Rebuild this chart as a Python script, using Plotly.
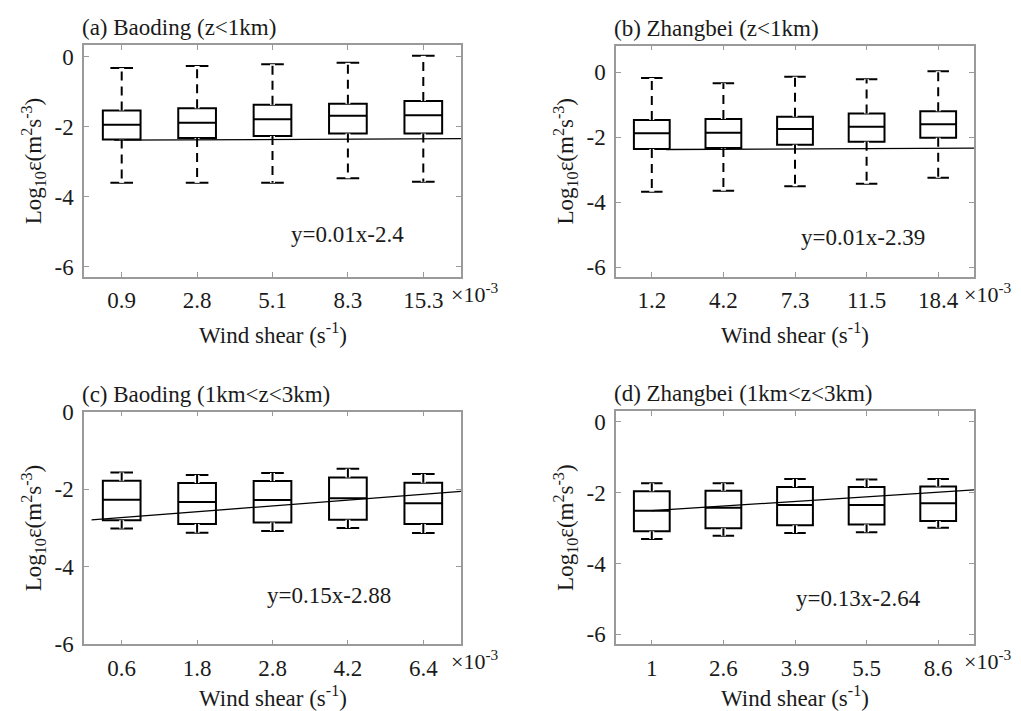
import plotly.graph_objects as go

# ---------------- data ----------------
shear_a = ["0.9", "2.8", "5.1", "8.3", "15.3"]
shear_b = ["1.2", "4.2", "7.3", "11.5", "18.4"]
shear_c = ["0.6", "1.8", "2.8", "4.2", "6.4"]
shear_d = ["1", "2.6", "3.9", "5.5", "8.6"]

# panel (a) Baoding z<1km
a_upper = [-0.33, -0.27, -0.22, -0.18, 0.02]
a_q3 = [-1.54, -1.48, -1.38, -1.35, -1.27]
a_med = [-1.95, -1.89, -1.79, -1.69, -1.68]
a_q1 = [-2.37, -2.33, -2.27, -2.20, -2.20]
a_lower = [-3.61, -3.61, -3.61, -3.48, -3.58]

# panel (b) Zhangbei z<1km
b_upper = [-0.18, -0.34, -0.14, -0.22, 0.03]
b_q3 = [-1.47, -1.44, -1.37, -1.27, -1.20]
b_med = [-1.88, -1.86, -1.75, -1.68, -1.60]
b_q1 = [-2.36, -2.33, -2.23, -2.14, -2.02]
b_lower = [-3.68, -3.65, -3.51, -3.43, -3.25]

# panel (c) Baoding 1km<z<3km
c_upper = [-1.57, -1.63, -1.58, -1.47, -1.61]
c_q3 = [-1.78, -1.84, -1.79, -1.70, -1.83]
c_med = [-2.27, -2.33, -2.28, -2.23, -2.36]
c_q1 = [-2.80, -2.90, -2.86, -2.79, -2.90]
c_lower = [-3.01, -3.12, -3.08, -3.00, -3.13]

# panel (d) Zhangbei 1km<z<3km
d_upper = [-1.74, -1.74, -1.62, -1.63, -1.62]
d_q3 = [-1.96, -1.95, -1.84, -1.84, -1.83]
d_med = [-2.51, -2.43, -2.35, -2.35, -2.30]
d_q1 = [-3.09, -3.01, -2.92, -2.90, -2.80]
d_lower = [-3.31, -3.22, -3.14, -3.12, -2.99]

# linear fits (slope, intercept)
fit_a = (0.01, -2.4)
fit_b = (0.01, -2.39)
fit_c = (0.15, -2.88)
fit_d = (0.13, -2.64)

titles = ["(a) Baoding (z&lt;1km)", "(b) Zhangbei (z&lt;1km)",
          "(c) Baoding (1km&lt;z&lt;3km)", "(d) Zhangbei (1km&lt;z&lt;3km)"]
fit_texts = ["y=0.01x-2.4", "y=0.01x-2.39", "y=0.15x-2.88", "y=0.13x-2.64"]
fit_text_pos = [(3.99, -5.08), (3.95, -5.1), (3.75, -4.75), (3.88, -5.0)]
y_ranges = [[-6.3, 0.33], [-6.3, 0.82], [-6.0, 0.0], [-6.28, 0.3]]
x_title = "Wind shear (s<sup>-1</sup>)"
y_title = "Log<sub>10</sub>ε(m<sup>2</sup>s<sup>-3</sup>)"

panels = [
    (shear_a, a_upper, a_q3, a_med, a_q1, a_lower, fit_a),
    (shear_b, b_upper, b_q3, b_med, b_q1, b_lower, fit_b),
    (shear_c, c_upper, c_q3, c_med, c_q1, c_lower, fit_c),
    (shear_d, d_upper, d_q3, d_med, d_q1, d_lower, fit_d),
]

# the page has an 8px body margin; the figure starts there and runs to the window edge
OFF = 8
W, H = 1021 - OFF, 711 - OFF
FONT = "Liberation Serif"
FS = 23
TXT = "#1a1a1a"


def fx(px):
    return (px - OFF) / W


def fy(py):
    return 1 - (py - OFF) / H


domains = [
    ([fx(84), fx(461)], [fy(277), fy(45)]),
    ([fx(616), fx(974)], [fy(277), fy(45.5)]),
    ([fx(84), fx(461)], [fy(644.3), fy(411.7)]),
    ([fx(616), fx(974)], [fy(644.3), fy(411)]),
]
xtitle_shift = [-56, -56, -52, -52]

fig = go.Figure()
layout = dict(
    template="none",
    width=W, height=H, margin=dict(l=0, r=0, t=0, b=0, autoexpand=False),
    paper_bgcolor="white", plot_bgcolor="white", showlegend=False,
    font=dict(family=FONT, size=FS, color=TXT),
)
annotations = []
AXIS_GRAY = "#9a9a9a"

for k, (labels, up, q3, med, q1, lo, fit) in enumerate(panels):
    n = k + 1
    xa = "x" if n == 1 else f"x{n}"
    ya = "y" if n == 1 else f"y{n}"
    pos = list(range(1, len(labels) + 1))

    fig.add_trace(go.Box(
        x=pos, q1=q1, median=med, q3=q3, lowerfence=lo, upperfence=up,
        width=0.5, whiskerwidth=0.6, boxpoints=False,
        line=dict(color="black", width=2), fillcolor="white",
        xaxis=xa, yaxis=ya, hoverinfo="skip",
    ))

    # dashed whiskers: cover solid whisker with white, then dashed black
    wx, wy = [], []
    for i, p in enumerate(pos):
        wx += [p, p, None, p, p, None]
        wy += [q3[i], up[i], None, q1[i], lo[i], None]
    fig.add_trace(go.Scatter(x=wx, y=wy, mode="lines",
                             line=dict(color="white", width=5),
                             xaxis=xa, yaxis=ya, hoverinfo="skip"))
    fig.add_trace(go.Scatter(x=wx, y=wy, mode="lines",
                             line=dict(color="black", width=2, dash="9px,6px"),
                             xaxis=xa, yaxis=ya, hoverinfo="skip"))

    # fit line, drawn over the index axis from first to last shear value
    x0 = float(labels[0])
    x1 = float(labels[-1])
    m, b = fit
    fig.add_trace(go.Scatter(x=[x0, x1], y=[m * x0 + b, m * x1 + b], mode="lines",
                             line=dict(color="black", width=1.3),
                             xaxis=xa, yaxis=ya, hoverinfo="skip", cliponaxis=True))

    dx, dy = domains[k]
    axis_common = dict(showline=True, linecolor=AXIS_GRAY, linewidth=1.5, mirror="ticks",
                       ticks="inside", ticklen=5, tickcolor=AXIS_GRAY, tickwidth=1,
                       showgrid=False, zeroline=False, fixedrange=True, automargin=False,
                       tickfont=dict(family=FONT, size=FS, color=TXT))
    layout["xaxis" if n == 1 else f"xaxis{n}"] = dict(
        domain=dx, range=[0.5, 5.5], tickvals=pos, ticktext=labels,
        anchor=ya, ticklabelstandoff=2, **axis_common)
    layout["yaxis" if n == 1 else f"yaxis{n}"] = dict(
        domain=dy, range=y_ranges[k], tickvals=[-6, -4, -2, 0],
        ticktext=["-6", "-4", "-2", "0"], anchor=xa, ticklabelstandoff=4,
        title=dict(text=y_title, standoff=6,
                   font=dict(family=FONT, size=FS, color=TXT)),
        **axis_common)

    xd = f"{xa} domain"
    yd = f"{ya} domain"
    annotations.append(dict(text=titles[k], xref=xd, yref=yd, x=0, y=1,
                            xanchor="left", yanchor="bottom", yshift=3, xshift=-4,
                            showarrow=False, font=dict(family=FONT, size=FS, color=TXT)))
    annotations.append(dict(text=x_title, xref=xd, yref=yd, x=0.5, y=0,
                            xanchor="center", yanchor="middle", yshift=xtitle_shift[k],
                            showarrow=False, font=dict(family=FONT, size=FS, color=TXT)))
    annotations.append(dict(text="×10<sup>-3</sup>", xref=xd, yref=yd, x=1, y=0,
                            xanchor="left", yanchor="top", xshift=-12, yshift=0,
                            showarrow=False, font=dict(family=FONT, size=22, color=TXT)))
    tx, ty = fit_text_pos[k]
    annotations.append(dict(text=fit_texts[k], xref=xa, yref=ya, x=tx, y=ty,
                            xanchor="center", yanchor="middle", showarrow=False,
                            font=dict(family=FONT, size=FS, color=TXT)))

layout["annotations"] = annotations
fig.update_layout(**layout)
fig.write_html("out.html")
